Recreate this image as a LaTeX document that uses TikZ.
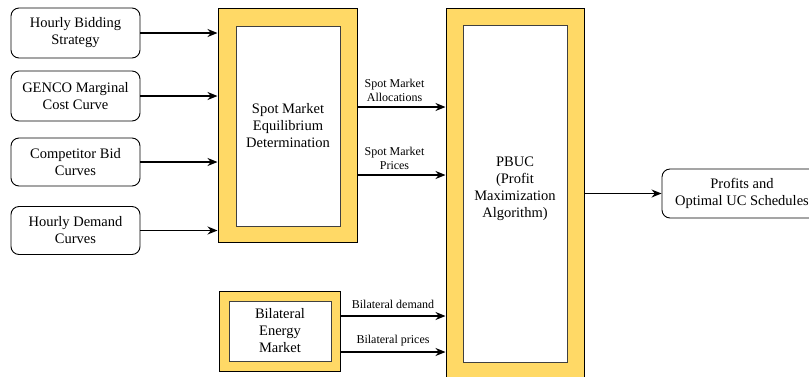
\documentclass[tikz,border=0pt]{standalone}
\usepackage{fontspec}
\setmainfont{Liberation Serif}
\newfontfamily\timesfont{Liberation Serif}
\usetikzlibrary{arrows.meta}

\definecolor{boxyellow}{HTML}{FFD966}

\tikzset{
    inbox/.style={draw, rounded corners=8pt, line width=0.9pt, inner sep=0pt,
        align=center, font=\timesfont\fontsize{14.5}{17}\selectfont},
    outerbox/.style={draw, fill=boxyellow, line width=1pt, inner sep=0pt},
    innerbox/.style={draw=black!75, fill=white, line width=1pt, inner sep=0pt,
        align=center, font=\timesfont\fontsize{14.5}{17}\selectfont},
    boxtext/.style={inner sep=0pt, align=center, font=\timesfont\fontsize{14.5}{17}\selectfont},
    arr/.style={-{Stealth[length=10pt,width=8pt]}, line width=1.3pt},
    lbl/.style={font=\timesfont\fontsize{12}{14}\selectfont, align=center, inner sep=5pt}
}

\begin{document}
\begin{tikzpicture}[x=1pt, y=-1pt]
    \useasboundingbox (0,0) rectangle (809,376);

    % inputs on the left
    \node[inbox, minimum width=129pt, minimum height=50pt] (bid) at (75.5,33) {Hourly Bidding\\Strategy};
    \node[inbox, minimum width=129pt, minimum height=50pt] (cost) at (75.5,96) {GENCO Marginal\\Cost Curve};
    \node[inbox, minimum width=129pt, minimum height=48pt] (comp) at (75.5,162) {Competitor Bid\\Curves};
    \node[inbox, minimum width=129pt, minimum height=48pt] (dem) at (75.5,230.5) {Hourly Demand\\Curves};

    % spot market
    \node[outerbox, minimum width=139pt, minimum height=234pt] (spot) at (287.5,125) {};
    \node[innerbox, minimum width=104pt, minimum height=200pt] (spotin) at (288,126) {Spot Market\\Equilibrium\\Determination};

    % bilateral market
    \node[outerbox, minimum width=121pt, minimum height=80pt] (bil) at (279.5,331) {};
    \node[innerbox, minimum width=102pt, minimum height=60pt] (bilin) at (280,331) {Bilateral\\Energy\\Market};

    % PBUC
    \node[outerbox, minimum width=138pt, minimum height=374pt] (pbuc) at (515,195) {};
    \node[innerbox, minimum width=104pt, minimum height=337pt] (pbucin) at (515,193.5) {};
    \node[boxtext] (pbuctext) at ([yshift=5pt]pbucin.center) {PBUC\\(Profit\\Maximization\\Algorithm)};

    % output
    \node[inbox, minimum width=160pt, minimum height=49pt] (out) at (742,193.5) {Profits and\\Optimal UC Schedules};

    \foreach \n in {bid,cost,comp,dem} {
        \draw[arr] (\n.east) -- (\n.east -| spot.west);
    }

    \draw[arr] ([yshift=18pt]spot.east) -- ([yshift=18pt]spot.east -| pbuc.west)
        node[lbl, midway, above, xshift=-7pt] {Spot Market\\Allocations};
    \draw[arr] ([yshift=-50pt]spot.east) -- ([yshift=-50pt]spot.east -| pbuc.west)
        node[lbl, midway, above, xshift=-7pt] {Spot Market\\Prices};

    \draw[arr] ([yshift=15pt]bil.east) -- ([yshift=15pt]bil.east -| pbuc.west)
        node[lbl, midway, above, yshift=2pt] {Bilateral demand};
    \draw[arr] ([yshift=-21pt]bil.east) -- ([yshift=-21pt]bil.east -| pbuc.west)
        node[lbl, midway, above] {Bilateral prices};

    \draw[arr] (pbuc.east |- out.west) -- (out.west);
\end{tikzpicture}
\end{document}
